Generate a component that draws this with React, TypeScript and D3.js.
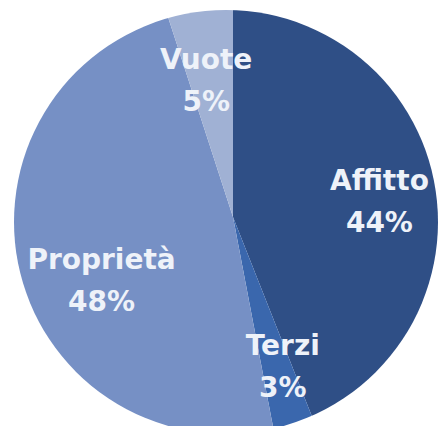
import * as d3 from 'd3'
import {useRef, useEffect} from "react";

const categories = ['Affitto', 'Terzi', 'Proprietà', 'Vuote']
const shares = [44, 3, 48, 5]
const pctLabels = ['44%', '3%', '48%', '5%']

const colors = ['#2f4f86', '#3a67ad', '#7690c5', '#a0b1d4']

const width = 440
const height = 426

// the slices meet a little off the middle of the outline, so the pie is
// drawn from its apex and clipped by the round outline
const apex = {x: 233, y: 217}
const outline = {x: 226, y: 222, r: 212}
const labelRadius = 146
// small nudges of labels that the source placed off the centroid
const labelNudge: Record<string, [number, number]> = {
  'Proprietà': [10, 20],
  Terzi: [9, 2],
  Affitto: [3, 5],
  Vuote: [-4, 0],
}

const App = () => {
  const svgRef = useRef<SVGSVGElement>(null)

  useEffect(() => {
    const svg = d3.select(svgRef.current)
    svg.selectAll('*').remove()

    const data = categories.map((c, i) => ({name: c, value: shares[i], label: pctLabels[i], color: colors[i]}))

    const pie = d3.pie<any>().sort(null).value((d) => d.value)
    const arcs = pie(data)

    const arc = d3.arc<any>().innerRadius(0).outerRadius(outline.r + 20)
    const labelArc = d3.arc<any>().innerRadius(labelRadius).outerRadius(labelRadius)

    svg.append('defs')
      .append('clipPath')
      .attr('id', 'pie-clip')
      .append('circle')
      .attr('cx', outline.x)
      .attr('cy', outline.y)
      .attr('r', outline.r)

    const g = svg.append('g')
      .attr('clip-path', 'url(#pie-clip)')
      .append('g')
      .attr('transform', `translate(${apex.x},${apex.y})`)

    g.selectAll('path')
      .data(arcs)
      .join('path')
      .attr('d', arc)
      .attr('fill', (d) => d.data.color)

    const labels = svg.append('g')
      .attr('transform', `translate(${apex.x},${apex.y})`)
      .selectAll('text')
      .data(arcs)
      .join('text')
      .attr('transform', (d) => {
        const [x, y] = labelArc.centroid(d)
        const [nx, ny] = labelNudge[d.data.name] || [0, 0]
        return `translate(${x + nx},${y + ny})`
      })
      .attr('text-anchor', 'middle')
      .attr('font-family', '"DejaVu Sans", sans-serif')
      .attr('font-weight', 'bold')
      .attr('font-size', 28)
      .attr('fill', '#eef2f9')

    labels.append('tspan')
      .attr('x', 0)
      .attr('dy', '-0.15em')
      .text((d) => d.data.name)

    labels.append('tspan')
      .attr('x', 0)
      .attr('dy', '1.5em')
      .text((d) => d.data.label)
  }, [])

  return (
    <svg ref={svgRef} width={width} height={height}
         style={{position: 'absolute', left: 0, top: 0, background: '#fff'}}/>
  )
}

export default App;
